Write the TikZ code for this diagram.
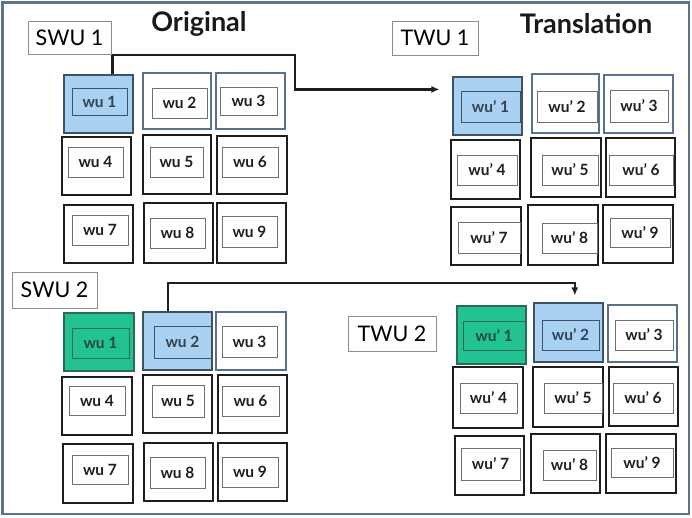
\documentclass[tikz,border=0pt]{standalone}
\usepackage{fontspec}
\setmainfont{Lato}
\usetikzlibrary{fit,arrows.meta,calc}

\definecolor{framecol}{HTML}{5F7488}
\definecolor{bluefill}{HTML}{A9D1F2}
\definecolor{blueedge}{HTML}{3D5266}
\definecolor{greenfill}{HTML}{22C292}
\definecolor{greenedge}{HTML}{2E6B55}
\definecolor{cellink}{HTML}{1E1E1E}
\definecolor{paleedge}{HTML}{5A7090}
\definecolor{inneredge}{HTML}{707070}

\tikzset{
  cell/.style={draw=cellink, line width=1.6pt, inner sep=0pt},
  palecell/.style={draw=paleedge, line width=1.2pt, inner sep=0pt},
  bluecell/.style={draw=blueedge, fill=bluefill, line width=1.2pt, inner sep=0pt},
  greencell/.style={draw=greenedge, fill=greenfill, line width=1.2pt, inner sep=0pt},
  inbox/.style={draw=inneredge, line width=0.9pt, inner sep=0pt, text=black!88,
    font=\fontsize{15.5}{17}\selectfont\bfseries},
  bluein/.style={inbox, draw=blueedge, text=blueedge!80!black},
  greenin/.style={inbox, draw=greenedge, text=greenedge!70!black},
  unitbox/.style={draw=black!45, line width=0.9pt, fill=white, inner sep=0pt,
    font=\fontsize{21.5}{23}\selectfont},
  heading/.style={font=\fontsize{27}{29}\selectfont\bfseries, text=black!90},
  conn/.style={draw=black!88, line width=2.2pt, line join=miter},
  connarrow/.style={conn, -{Latex[length=8pt,width=7pt]}}
}

% box from corner coordinates: name, x1, y1, x2, y2, style, text
\newcommand\cornerbox[7]{%
  \pgfmathsetmacro\bcx{(#2+#4)/2}\pgfmathsetmacro\bcy{(#3+#5)/2}%
  \pgfmathsetmacro\bw{#4-#2}\pgfmathsetmacro\bh{#5-#3}%
  \node[#6, minimum width=\bw pt, minimum height=\bh pt] (#1) at (\bcx,\bcy) {#7};}
% outer cell: name, x1, y1, x2, y2, style
\newcommand\wucell[6]{\cornerbox{#1}{#2}{#3}{#4}{#5}{#6}{}}
% inner labelled box: name, x1, y1, x2, y2, style, text
\newcommand\wuinner[7]{\cornerbox{#1}{#2}{#3}{#4}{#5}{#6}{#7}}

\begin{document}
\begin{tikzpicture}[x=1pt, y=-1pt]
\useasboundingbox (0,0) rectangle (692,517);
\fill[white] (0,0) rectangle (692,517);
\cornerbox{frame}{2.5}{2.5}{689}{514}{draw=framecol, line width=2.6pt, inner sep=0pt}{}

% headings
\node[heading] (orig) at (199,24) {Original};
\node[heading] (trans) at (586,24) {Translation};

% ---- source unit 1 ----
\wucell{a1}{64}{75}{133}{133}{bluecell}
\wuinner{ai1}{72}{88}{127}{115}{bluein}{wu 1}
\wucell{a2}{143}{73}{211}{129}{palecell}
\wuinner{ai2}{152}{88}{207}{118}{inbox}{wu 2}
\wucell{a3}{216}{73}{285}{129}{palecell}
\wuinner{ai3}{220}{87}{277}{115}{inbox}{wu 3}
\wucell{a4}{62}{137}{131}{195}{cell}
\wuinner{ai4}{68}{147}{123}{177}{inbox}{wu 4}
\wucell{a5}{143}{135}{211}{194}{cell}
\wuinner{ai5}{150}{147}{203}{177}{inbox}{wu 5}
\wucell{a6}{217}{136}{287}{194}{cell}
\wuinner{ai6}{222}{147}{278}{177}{inbox}{wu 6}
\wucell{a7}{64}{205}{133}{263}{cell}
\wuinner{ai7}{72}{215}{128}{245}{inbox}{wu 7}
\wucell{a8}{144}{203}{213}{263}{cell}
\wuinner{ai8}{150}{218}{205}{248}{inbox}{wu 8}
\wucell{a9}{217}{203}{286}{263}{cell}
\wuinner{ai9}{222}{216}{277}{247}{inbox}{wu 9}

% ---- target unit 1 ----
\wucell{t1}{453}{77}{522}{135}{bluecell}
\wuinner{ti1}{461}{91}{520}{122}{bluein}{wu' 1}
\wucell{t2}{532}{74}{599}{133}{palecell}
\wuinner{ti2}{537}{91}{597}{122}{inbox}{wu' 2}
\wucell{t3}{604}{75}{673}{133}{palecell}
\wuinner{ti3}{610}{90}{668}{122}{inbox}{wu' 3}
\wucell{t4}{451}{140}{520}{199}{cell}
\wuinner{ti4}{457}{155}{517}{185}{inbox}{wu' 4}
\wucell{t5}{531}{138}{601}{197}{cell}
\wuinner{ti5}{542}{155}{598}{185}{inbox}{wu' 5}
\wucell{t6}{606}{138}{675}{197}{cell}
\wuinner{ti6}{609}{155}{673}{185}{inbox}{wu' 6}
\wucell{t7}{451}{207}{521}{265}{cell}
\wuinner{ti7}{458}{222}{520}{253}{inbox}{wu' 7}
\wucell{t8}{528}{205}{598}{265}{cell}
\wuinner{ti8}{542}{223}{597}{253}{inbox}{wu' 8}
\wucell{t9}{603}{205}{673}{263}{cell}
\wuinner{ti9}{610}{218}{670}{247}{inbox}{wu' 9}

% ---- source unit 2 ----
\wucell{b1}{64}{313}{134}{371}{greencell}
\wuinner{bi1}{72}{328}{129}{358}{greenin}{wu 1}
\wucell{b2}{143}{312}{212}{370}{bluecell}
\wuinner{bi2}{154}{326}{211}{358}{bluein}{wu 2}
\wucell{b3}{216}{312}{286}{370}{palecell}
\wuinner{bi3}{222}{326}{277}{357}{inbox}{wu 3}
\wucell{b4}{62}{377}{132}{435}{cell}
\wuinner{bi4}{69}{386}{125}{415}{inbox}{wu 4}
\wucell{b5}{143}{375}{212}{433}{cell}
\wuinner{bi5}{152}{385}{204}{417}{inbox}{wu 5}
\wucell{b6}{218}{375}{287}{433}{cell}
\wuinner{bi6}{222}{386}{279}{416}{inbox}{wu 6}
\wucell{b7}{63}{444}{133}{503}{cell}
\wuinner{bi7}{72}{455}{128}{484}{inbox}{wu 7}
\wucell{b8}{144}{443}{213}{501}{cell}
\wuinner{bi8}{150}{457}{205}{488}{inbox}{wu 8}
\wucell{b9}{218}{443}{287}{501}{cell}
\wuinner{bi9}{222}{457}{278}{487}{inbox}{wu 9}

% ---- target unit 2 ----
\wucell{u1}{457}{306}{526}{364}{greencell}
\wuinner{ui1}{463}{321}{525}{350}{greenin}{wu' 1}
\wucell{u2}{534}{303}{603}{362}{bluecell}
\wuinner{ui2}{542}{320}{599}{350}{bluein}{wu' 2}
\wucell{u3}{608}{305}{677}{362}{palecell}
\wuinner{ui3}{615}{320}{673}{350}{inbox}{wu' 3}
\wucell{u4}{453}{367}{523}{428}{cell}
\wuinner{ui4}{460}{383}{517}{413}{inbox}{wu' 4}
\wucell{u5}{533}{367}{603}{427}{cell}
\wuinner{ui5}{544}{383}{602}{413}{inbox}{wu' 5}
\wucell{u6}{609}{367}{678}{426}{cell}
\wuinner{ui6}{613}{383}{673}{413}{inbox}{wu' 6}
\wucell{u7}{455}{436}{524}{495}{cell}
\wuinner{ui7}{461}{448}{520}{480}{inbox}{wu' 7}
\wucell{u8}{531}{434}{600}{493}{cell}
\wuinner{ui8}{543}{450}{596}{480}{inbox}{wu' 8}
\wucell{u9}{606}{434}{676}{493}{cell}
\wuinner{ui9}{611}{448}{673}{477}{inbox}{wu' 9}

% connectors from source unit to target unit
\coordinate (s1) at ($(a1.north west)!0.70!(a1.north east)$);
\coordinate (e1) at ($(t1.north west)+(-13,13)$);
\draw[connarrow] (s1) -- (s1 |- 0,55) -- (295,55) -- (295,0 |- e1) -- (e1);

\coordinate (s2) at ($(b2.north west)!0.36!(b2.north east)$);
\coordinate (e2) at ($(u2.north west)!0.59!(u2.north east)+(0,-7)$);
\draw[connarrow] (s2) -- (s2 |- 0,283) -- (e2 |- 0,283) -- (e2);

% unit labels, drawn over the connector start
\cornerbox{swu1}{28}{21}{111}{54}{unitbox}{SWU 1}
\cornerbox{twu1}{392}{21}{478}{55}{unitbox}{TWU 1}
\cornerbox{swu2}{12}{272}{97}{308}{unitbox}{SWU 2}
\cornerbox{twu2}{348}{316}{436}{351}{unitbox}{TWU 2}
\end{tikzpicture}
\end{document}
